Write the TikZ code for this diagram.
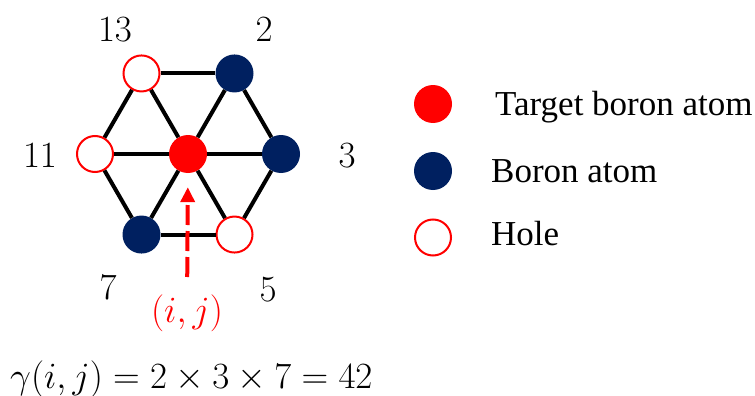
\RequirePackage{fix-cm}
\documentclass[tikz,border=0pt]{standalone}
\usepackage{fontspec}
\newfontfamily\legendfont{Liberation Serif}
\usetikzlibrary{arrows.meta, math, calc}
\definecolor{myblue}{RGB}{0,32,96}
\definecolor{myred}{RGB}{255,0,0}

\tikzset{
  atom/.style={circle, inner sep=0pt, minimum size=38pt},
  target/.style={atom, fill=myred},
  boron/.style={atom, fill=myblue},
  hole/.style={atom, draw=myred, fill=white, line width=2pt, minimum size=36pt},
  bond/.style={line width=4pt, black},
  sitenum/.style={font=\fontsize{37}{40}\selectfont},
  legendtext/.style={anchor=base west, inner sep=0pt, font=\legendfont\fontsize{35}{38}\selectfont},
}

\begin{document}
\begin{tikzpicture}[x=1pt, y=1pt]
\tikzmath{
\Cx=188;
\Cy=-154;
\R=93;
}
\useasboundingbox (0,0) rectangle (755,-396);

% lattice sites
\node[target] (c) at (\Cx,\Cy) {};
\node[boron] (s3)  at ($(\Cx,\Cy)+(0:\R)$) {};
\node[boron] (s2)  at ($(\Cx,\Cy)+(60:\R)$) {};
\node[hole]  (s13) at ($(\Cx,\Cy)+(120:\R)$) {};
\node[hole]  (s11) at ($(\Cx,\Cy)+(180:\R)$) {};
\node[boron] (s7)  at ($(\Cx,\Cy)+(240:\R)$) {};
\node[hole]  (s5)  at ($(\Cx,\Cy)+(300:\R)$) {};

% bonds
\foreach \a/\b in {s3/s2, s2/s13, s13/s11, s11/s7, s7/s5, s5/s3}{
  \draw[bond] (\a) -- (\b);
  \draw[bond] (c) -- (\a);
}

% prime labels
\node[sitenum] (n13) at (115,-30)  {$13$};
\node[sitenum] (n2)  at (264,-30)  {$2$};
\node[sitenum] (n11) at (40,-156)  {$11$};
\node[sitenum] (n3)  at (347,-156) {$3$};
\node[sitenum] (n7)  at (108,-288) {$7$};
\node[sitenum] (n5)  at (268,-290) {$5$};

% index of target
\node[sitenum, text=myred] (ij) at (187,-313) {$(i,j)$};
\draw[myred, line width=4pt, dash pattern=on 20pt off 6pt,
  -{Triangle[length=15pt, width=14pt]}, shorten <=14pt, shorten >=14pt]
  (ij) -- (c);

% legend
\node[target] (lt) at (433,-104)   {};
\node[boron]  (lb) at (433,-171)   {};
\node[hole]   (lh) at (433,-237.5) {};
\node[legendtext] (tt) at (495,-115) {Target boron atom};
\node[legendtext] (tb) at (491,-182) {Boron atom};
\node[legendtext] (th) at (491,-245) {Hole};

% product
\node[anchor=base west, font=\fontsize{37}{40}\selectfont, inner sep=0pt] (gamma) at (10,-388)
  {$\gamma(i,j)=2\times3\times7=42$};
\end{tikzpicture}
\end{document}
